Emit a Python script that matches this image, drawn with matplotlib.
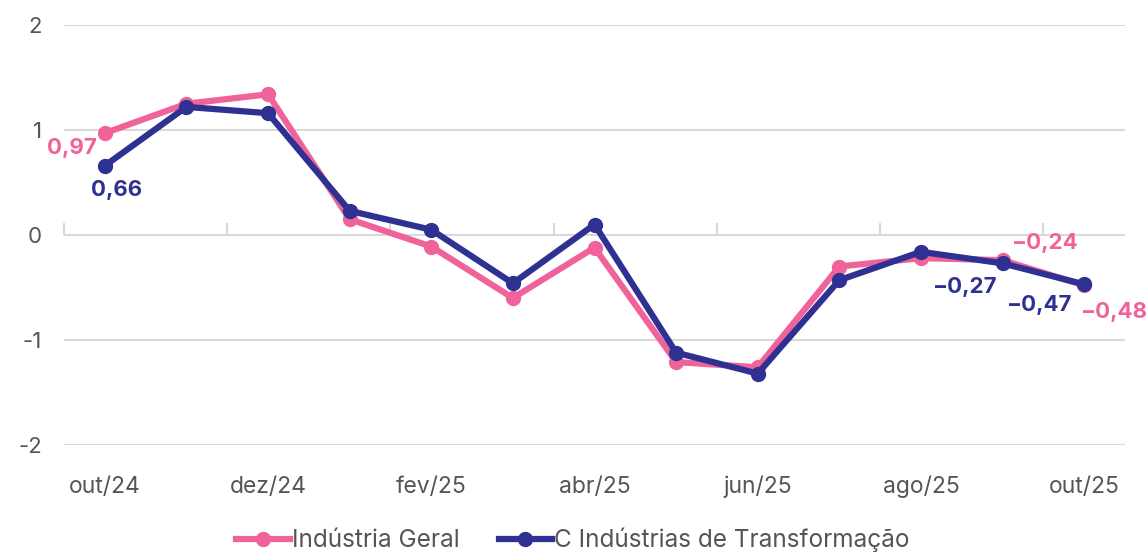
import matplotlib
matplotlib.use("Agg")
import matplotlib.pyplot as plt
from matplotlib.ticker import NullFormatter

months = ["out/24", "nov/24", "dez/24", "jan/25", "fev/25", "mar/25", "abr/25",
          "mai/25", "jun/25", "jul/25", "ago/25", "set/25", "out/25"]
geral = [0.97, 1.25, 1.34, 0.15, -0.11, -0.60, -0.12, -1.21, -1.26, -0.30, -0.22, -0.24, -0.48]
transf = [0.66, 1.22, 1.16, 0.23, 0.05, -0.46, 0.10, -1.12, -1.32, -0.43, -0.16, -0.27, -0.47]
name_geral = "Indústria Geral"
name_transf = "C Indústrias de Transformação"
yticks = [-2, -1, 0, 1, 2]

pink = "#F0639A"
navy = "#2E3192"
grid = "#D9D9D9"
txt = "#555555"

plt.rcParams['font.family'] = ['Inter', 'DejaVu Sans']

fig = plt.figure(figsize=(11.46, 5.53), dpi=100)
ax = fig.add_axes([64/1146, 1-445/553, (1125-64)/1146, 420/553])

x = list(range(len(months)))
ax.plot(x, geral, color=pink, lw=4.5, marker="o", ms=10, label=name_geral, zorder=3)
ax.plot(x, transf, color=navy, lw=4.5, marker="o", ms=10, label=name_transf, zorder=4)

ax.set_xlim(-0.5, len(months) - 0.5)
ax.set_ylim(-2, 2)
ax.set_yticks(yticks)
ax.set_yticklabels([str(v) for v in yticks])
ax.grid(axis="y", color=grid, lw=1.5)
ax.set_axisbelow(True)
for s in ax.spines.values():
    s.set_visible(False)
ax.tick_params(axis="y", length=0, pad=16, labelsize=16, labelcolor=txt)
ax.set_xticks(x[::2])
ax.set_xticklabels(months[::2])
ax.tick_params(axis="x", length=0, pad=22, labelsize=16.5, labelcolor=txt)

sec = ax.secondary_xaxis(0.5)
sec.set_xticks([i - 0.5 for i in x[::2]])
sec.xaxis.set_major_formatter(NullFormatter())
sec.tick_params(axis="x", length=9, width=1.5, color=grid, direction="out")
sec.spines["bottom"].set_color(grid)
sec.spines["bottom"].set_linewidth(1.5)
for k in ("top", "left", "right"):
    if k in sec.spines:
        sec.spines[k].set_visible(False)

def lab(i, vals, color, dx, dy):
    ax.annotate(f"{vals[i]:.2f}".replace(".", ",").replace("-", "\u2212"), (i, vals[i]),
                xytext=(dx, dy), textcoords="offset pixels", ha="center", va="center",
                fontsize=16, fontweight="bold", color=color, zorder=6)

lab(0, geral, pink, -33, -15)
lab(0, transf, navy, 12, -24)
lab(11, geral, pink, 43, 17)
lab(11, transf, navy, -37, -24)
lab(12, transf, navy, -44, -21)
lab(12, geral, pink, 30, -27)

leg = fig.legend(loc="center", bbox_to_anchor=(0.5, 1 - 540/553), ncol=2, frameon=False,
                 fontsize=17.5, labelcolor=txt, handlelength=2.2, handletextpad=0.1,
                 columnspacing=1.6)

fig.savefig("out.png", dpi=100)
